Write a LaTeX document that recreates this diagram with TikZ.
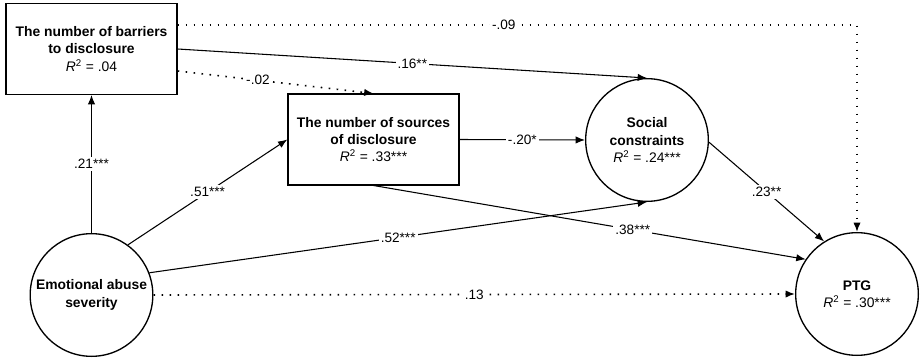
\documentclass[tikz,border=0pt]{standalone}
\usepackage{fontspec}
\setmainfont{Liberation Sans}
\usepackage{tikz}
\usetikzlibrary{arrows.meta}

\newcommand{\rsq}[1]{{\mdseries\textit{R}\textsuperscript{2} = #1}}

\begin{document}
\begin{tikzpicture}[x=0.75pt,y=-0.75pt,
  box/.style={draw,line width=1pt,rectangle,minimum width=128.25pt,minimum height=68pt,align=center,inner sep=2pt,font=\bfseries\fontsize{10.4}{13}\selectfont},
  var/.style={draw,line width=1pt,circle,minimum size=92pt,align=center,inner sep=0pt,font=\bfseries\fontsize{10.4}{13}\selectfont},
  sig/.style={line width=0.8pt,-{Latex[length=7pt,width=5.5pt]}},
  nonsig/.style={sig,line width=1.2pt,dash pattern=on 1.2pt off 4.8pt},
  coef/.style={fill=white,inner sep=1.5pt,font=\fontsize{10.2}{12}\selectfont}]
\useasboundingbox (0,0) rectangle (922,360);
\node[var] (emo) at (91.5,295) {Emotional abuse\\severity};
\node[box] (bar) at (91.5,49) {The number of barriers\\to disclosure\\\rsq{.04}};
\node[box] (src) at (373.5,139.5) {The number of sources\\of disclosure\\\rsq{.33***}};
\node[var] (soc) at (647,140) {Social\\constraints\\\rsq{.24***}};
\node[var] (ptg) at (857,294) {PTG\\\rsq{.30***}};
\draw[sig] (emo.north) -- node[coef] {.21***} (bar.south);
\draw[sig] (emo.54) -- node[coef] {.51***} (src.west);
\draw[sig] (emo.21) -- node[coef] {.52***} (soc.south);
\draw[nonsig] (emo.east) -- node[coef] {.13} (ptg.west);
\draw[nonsig] ([yshift=-16.5pt]bar.east) -- node[coef,pos=0.41] {-.02} (src.north);
\draw[sig] (bar.east) -- node[coef] {.16**} (soc.north);
\draw[nonsig] ([yshift=18pt]bar.east) -| node[coef,pos=0.24] {-.09} (ptg.north);
\draw[sig] (src.east) -- node[coef] {-.20*} (soc.west);
\draw[sig] (src.south) -- node[coef,pos=0.6] {.38***} (ptg.146);
\draw[sig] (soc.-2) -- node[coef] {.23**} (ptg.122);
\end{tikzpicture}
\end{document}
